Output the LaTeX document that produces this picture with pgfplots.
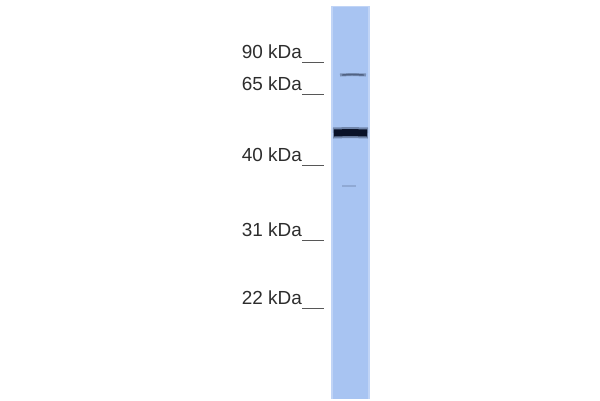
\documentclass[border=0pt]{standalone}
\usepackage{pgfplots}
\pgfplotsset{compat=1.18}
\usepackage{fontspec}
\setmainfont{Liberation Sans}
\definecolor{lane}{RGB}{168,196,242}
\definecolor{laneedge}{RGB}{192,212,246}
\definecolor{band}{RGB}{10,18,40}
\definecolor{lbl}{RGB}{45,45,45}
\begin{document}
\begin{tikzpicture}
\begin{axis}[
  width=600bp, height=400bp, scale only axis,
  xmin=0, xmax=600, ymin=0, ymax=400, y dir=reverse,
  hide axis, clip=true,
]
% background
\addplot[fill=white, draw=none] coordinates {(0,0)(600,0)(600,400)(0,400)} -- cycle;
% lane
\addplot[fill=laneedge, draw=none] coordinates {(331,6)(370,6)(370,399)(331,399)} -- cycle;
\addplot[fill=lane, draw=none] coordinates {(333,7)(368,7)(368,399)(333,399)} -- cycle;
% faint upper band (~70 kDa)
\addplot[draw=band!30!lane, line width=3bp] coordinates {(340,75)(352,74.5)(366,75)};
\addplot[draw=band!55!lane, line width=1.4bp] coordinates {(342,75)(352,74.5)(364,75)};
% main band
\addplot[draw=band!35!lane, line width=11bp] coordinates {(333,133)(350,132.5)(368,133)};
\addplot[draw=band, line width=7bp] coordinates {(334,133)(350,132.5)(367,133)};
% faint lower band
\addplot[draw=band!15!lane, line width=1.5bp] coordinates {(342,186)(356,186)};
% marker ticks
\addplot[draw=lbl!80, line width=1bp] coordinates {(302,62)(324,62)};
\addplot[draw=lbl!80, line width=1bp] coordinates {(302,94)(324,94)};
\addplot[draw=lbl!80, line width=1bp] coordinates {(302,165)(324,165)};
\addplot[draw=lbl!80, line width=1bp] coordinates {(302,240)(324,240)};
\addplot[draw=lbl!80, line width=1bp] coordinates {(302,308)(324,308)};
% labels
\tikzset{lab/.style={anchor=base east, text=lbl, font=\fontsize{19}{19}\selectfont, inner sep=0pt}}
\node[lab] at (axis cs:302,58) {90 kDa};
\node[lab] at (axis cs:302,90) {65 kDa};
\node[lab] at (axis cs:302,161) {40 kDa};
\node[lab] at (axis cs:302,236) {31 kDa};
\node[lab] at (axis cs:302,304) {22 kDa};
\end{axis}
\end{tikzpicture}
\end{document}
